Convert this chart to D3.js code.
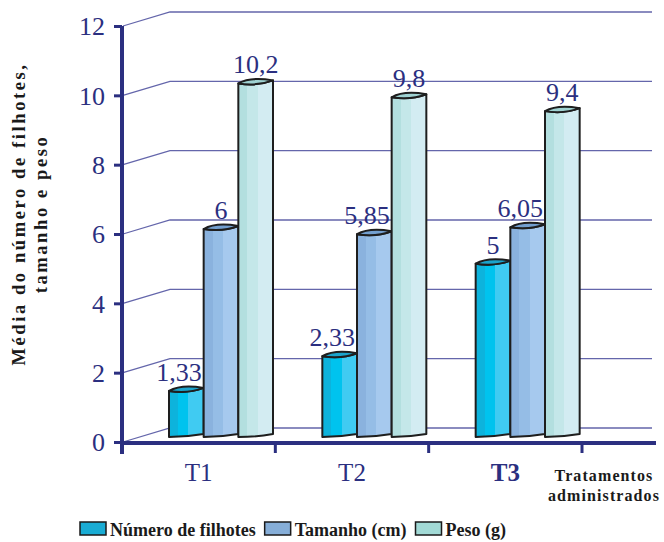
<!DOCTYPE html>
<html>
<head>
<meta charset="utf-8">
<script src="https://cdn.jsdelivr.net/npm/d3@7"></script>
<style>
  html, body { margin: 0; padding: 0; background: #fff; }
  svg { display: block; }
  svg text { font-family: "Liberation Serif", "Times New Roman", Tinos, serif !important; }
</style>
</head>
<body>
<svg id="chart" width="664" height="542"></svg>
<script>
// Treatments and the three measured means
const categories = ["T1", "T2", "T3"];
const seriesNames = ["Número de filhotes", "Tamanho (cm)", "Peso (g)"];
const numeroFilhotes = [1.33, 2.33, 5];
const tamanho = [6, 5.85, 6.05];
const peso = [10.2, 9.8, 9.4];
const valueLabels = [["1,33", "2,33", "5"], ["6", "5,85", "6,05"], ["10,2", "9,8", "9,4"]];
const yTicks = [0, 2, 4, 6, 8, 10, 12];

const seriesValues = [numeroFilhotes, tamanho, peso];

// stripe shades (left, middle, right) and cap colour per series
const stripeColors = [
  ["#0db3dc", "#00c3ee", "#40cbf2"],
  ["#8ab2de", "#95bde6", "#a6c9ee"],
  ["#b3dfdf", "#c4e7e9", "#d3ecf2"]
];
const capColors = ["#1ba3cb", "#739fcf", "#9fd2d2"];
const legendColors = ["#19acd4", "#86aed8", "#a2dad6"];

const navy = "#2b2f80";
const gridColor = "#6466ab";
const serif = '"Liberation Serif", "Times New Roman", Tinos, serif';

const svg = d3.select("#chart").style("font-family", serif);

// 3D box: front plane and the offset to the back wall
const depthX = 48, depthY = -14;

const x = d3.scaleBand().domain(categories).range([122, 582]);
const y = d3.scaleLinear().domain([0, 12]).range([442, 26]);
const xSeries = d3.scaleBand().domain(seriesNames).range([0, 104]);

// bars sit a little behind the front plane
const barShiftX = 47, barShiftY = -5;

const defs = svg.append("defs");
stripeColors.forEach((c, i) => {
  const g = defs.append("linearGradient").attr("id", "stripe" + i)
    .attr("x1", "0").attr("x2", "1").attr("y1", "0").attr("y2", "0");
  [[0, c[0]], [0.26, c[0]], [0.26, c[1]], [0.56, c[1]], [0.56, c[2]], [1, c[2]]]
    .forEach(([o, col]) => g.append("stop").attr("offset", o).attr("stop-color", col));
});

// back wall gridlines with diagonal returns to the value axis
const grid = svg.append("g");
const wallRight = 652;
yTicks.forEach(t => {
  const yf = y(t), yb = y(t) + depthY;
  grid.append("path")
    .attr("d", `M123,${yf}L${122 + depthX},${yb}L${wallRight},${yb}`)
    .attr("fill", "none").attr("stroke", gridColor).attr("stroke-width", 1.3);
});

// bars
const bars = svg.append("g");
const labelLayer = svg.append("g");
categories.forEach((cat, ci) => {
  seriesNames.forEach((s, si) => {
    const v = seriesValues[si][ci];
    const x0 = x(cat) + barShiftX + xSeries(s);
    const w = xSeries.bandwidth();
    const t = y(v) + barShiftY;
    const b = y(0) + barShiftY;
    const body = `M${x0},${t}` +
      `Q${x0 + w * 0.55},${t + 3} ${x0 + w},${t - 3}` +
      `L${x0 + w},${b - 3}` +
      `Q${x0 + w * 0.5},${b} ${x0},${b}Z`;
    bars.append("path").attr("d", body)
      .attr("fill", `url(#stripe${si})`)
      .attr("stroke", "#1e1e1e").attr("stroke-width", 2).attr("stroke-linejoin", "round");
    const cap = `M${x0},${t}` +
      `Q${x0 + w * 0.35},${t - 7} ${x0 + w},${t - 3}` +
      `Q${x0 + w * 0.55},${t + 3} ${x0},${t}Z`;
    bars.append("path").attr("d", cap)
      .attr("fill", capColors[si])
      .attr("stroke", "#1e1e1e").attr("stroke-width", 2).attr("stroke-linejoin", "round");

    const lbl = labelLayer.append("text")
      .attr("x", x0 + w / 2).attr("y", t - 10)
      .attr("text-anchor", "middle")
      .attr("font-size", 26).attr("fill", navy)
      .text(valueLabels[si][ci]);
    // keep wide labels clear of a taller neighbour on the right
    const next = si < seriesNames.length - 1 ? seriesValues[si + 1][ci] : null;
    if (next !== null && next > v && lbl.node().getComputedTextLength() > w) {
      lbl.attr("text-anchor", "end").attr("x", x0 + w - 2);
    }
  });
});

// value axis
const yAxis = svg.append("g").attr("transform", "translate(122,0)")
  .call(d3.axisLeft(y).tickValues(yTicks).tickSize(8).tickPadding(9).tickFormat(d3.format("d")))
  .attr("font-family", null);
yAxis.select(".domain").remove();
yAxis.selectAll(".tick line").attr("stroke", navy).attr("stroke-width", 3);
yAxis.selectAll(".tick text").attr("font-size", 26).attr("fill", navy).attr("dy", "0.34em");
svg.append("line").attr("x1", 122).attr("x2", 122).attr("y1", y(12)).attr("y2", 454)
  .attr("stroke", navy).attr("stroke-width", 4);

// category axis
const xAxis = svg.append("g").attr("transform", `translate(0,${y(0) + 1})`);
xAxis.append("line").attr("x1", 120).attr("x2", 656).attr("y1", 0).attr("y2", 0)
  .attr("stroke", navy).attr("stroke-width", 4);
const boundaries = categories.map(c => x(c)).concat([x.range()[1]]);
boundaries.slice(1).forEach(bx => {
  xAxis.append("line").attr("x1", bx).attr("x2", bx).attr("y1", 0).attr("y2", 10)
    .attr("stroke", navy).attr("stroke-width", 3);
});
categories.forEach((cat, i) => {
  xAxis.append("text")
    .attr("x", x(cat) + x.bandwidth() / 2).attr("y", 38)
    .attr("text-anchor", "middle").attr("font-size", 25).attr("fill", navy)
    .attr("font-weight", i === categories.length - 1 ? "bold" : "normal")
    .text(cat);
});

// category axis title
const xTitle = svg.append("text").attr("text-anchor", "middle")
  .attr("font-size", 16).attr("font-weight", "bold").attr("fill", "#1a1a1a")
  .attr("letter-spacing", 1.1);
xTitle.append("tspan").attr("x", 604).attr("y", 481).text("Tratamentos");
xTitle.append("tspan").attr("x", 604).attr("y", 501).text("administrados");

// value axis title
const yTitle = svg.append("text").attr("text-anchor", "middle")
  .attr("transform", "translate(0,214) rotate(-90)")
  .attr("font-size", 18.5).attr("font-weight", "bold").attr("fill", "#1a1a1a")
  .attr("letter-spacing", 2.6);
yTitle.append("tspan").attr("x", 0).attr("y", 25).text("Média do número de filhotes,");
yTitle.append("tspan").attr("x", 0).attr("y", 47).text("tamanho e peso");

// legend
const legend = svg.append("g");
let lx = 80;
seriesNames.forEach((s, i) => {
  legend.append("rect").attr("x", lx).attr("y", 522).attr("width", 26).attr("height", 13)
    .attr("fill", legendColors[i]).attr("stroke", "#1a1a1a").attr("stroke-width", 1.5);
  const tx = legend.append("text").attr("x", lx + 30).attr("y", 536)
    .attr("font-size", 18).attr("font-weight", "bold").attr("fill", "#1a1a1a").text(s);
  lx += 30 + tx.node().getComputedTextLength() + 9;
});
</script>
</body>
</html>
